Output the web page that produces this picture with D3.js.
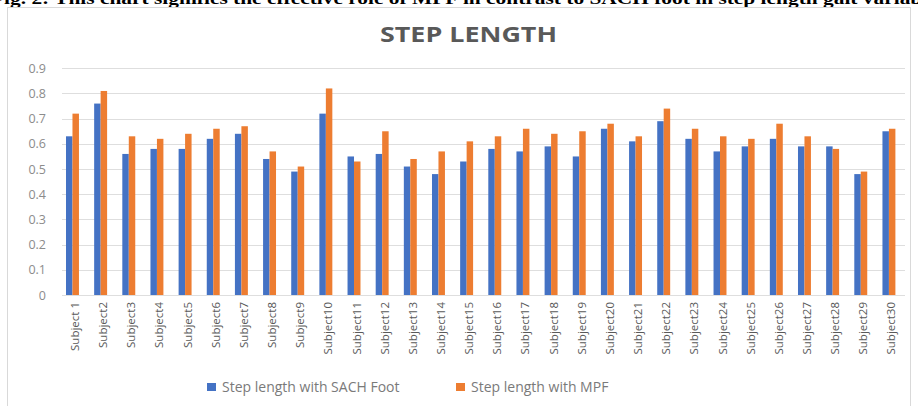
<!DOCTYPE html>
<html>
<head>
<meta charset="utf-8">
<script src="https://cdn.jsdelivr.net/npm/d3@7"></script>
<style>
  html, body { margin: 0; padding: 0; background: #fff; }
  svg { display: block; }
</style>
</head>
<body>
<svg id="chart" width="918" height="406"></svg>
<script>
// Step length per subject, two prosthetic feet
const subjects = d3.range(1, 31).map(i => i === 1 ? "Subject 1" : "Subject" + i);
const sachFoot = [0.63, 0.76, 0.56, 0.58, 0.58, 0.62, 0.64, 0.54, 0.49, 0.72,
                  0.55, 0.56, 0.51, 0.48, 0.53, 0.58, 0.57, 0.59, 0.55, 0.66,
                  0.61, 0.69, 0.62, 0.57, 0.59, 0.62, 0.59, 0.59, 0.48, 0.65];
const mpf      = [0.72, 0.81, 0.63, 0.62, 0.64, 0.66, 0.67, 0.57, 0.51, 0.82,
                  0.53, 0.65, 0.54, 0.57, 0.61, 0.63, 0.66, 0.64, 0.65, 0.68,
                  0.63, 0.74, 0.66, 0.63, 0.62, 0.68, 0.63, 0.58, 0.49, 0.66];
const seriesNames = ["Step length with SACH Foot", "Step length with MPF"];
const yTicks = [0, 0.1, 0.2, 0.3, 0.4, 0.5, 0.6, 0.7, 0.8, 0.9];
const colors = ["#4472C4", "#ED7D31"];

const svg = d3.select("#chart");
const W = 918, H = 406;

// Figure caption running along the top edge
svg.append("text")
  .attr("x", -9).attr("y", 4)
  .attr("font-family", "Liberation Serif, serif")
  .attr("font-weight", "bold")
  .attr("font-size", 16)
  .attr("fill", "#000")
  .attr("textLength", 955)
  .attr("lengthAdjust", "spacingAndGlyphs")
  .text("Fig. 2: This chart signifies the effective role of MPF in contrast to SACH foot in step length gait variables");

// Chart frame
svg.append("rect")
  .attr("x", 7.5).attr("y", 7.5)
  .attr("width", 903).attr("height", 410)
  .attr("fill", "#fff")
  .attr("stroke", "#d9d9d9");

const x = d3.scaleBand()
  .domain(subjects)
  .range([58.4, 903])
  .paddingInner(0.54)
  .paddingOuter(0.27);

const xInner = d3.scaleBand()
  .domain([0, 1])
  .range([0, x.bandwidth()]);

const y = d3.scaleLinear()
  .domain([0, 0.9])
  .range([295, 68.3]);

// Gridlines
svg.append("g")
  .selectAll("line")
  .data(yTicks)
  .join("line")
  .attr("x1", 62).attr("x2", 905)
  .attr("y1", d => Math.round(y(d)) + 0.5)
  .attr("y2", d => Math.round(y(d)) + 0.5)
  .attr("stroke", "#dedede")
  .attr("stroke-width", 1);

// Y axis labels
const yAxis = d3.axisLeft(y)
  .tickValues(yTicks)
  .tickSize(0)
  .tickPadding(0)
  .tickFormat(d => d === 0 ? "0" : d3.format(".1f")(d));

svg.append("g")
  .attr("transform", "translate(46,0)")
  .call(yAxis)
  .call(g => g.select(".domain").remove())
  .call(g => g.selectAll("text")
    .attr("font-family", "Open Sans, sans-serif")
    .attr("font-size", 12.5)
    .attr("fill", "#8c8c8c"));

// Bars
const groups = svg.append("g")
  .selectAll("g")
  .data(subjects.map((s, i) => ({ s, v: [sachFoot[i], mpf[i]] })))
  .join("g")
  .attr("transform", d => `translate(${x(d.s)},0)`);

groups.selectAll("rect")
  .data(d => d.v.map((v, k) => ({ v, k })))
  .join("rect")
  .attr("x", d => xInner(d.k))
  .attr("width", xInner.bandwidth())
  .attr("y", d => y(d.v))
  .attr("height", d => y(0) - y(d.v))
  .attr("fill", d => colors[d.k]);

// X axis labels, rotated
const xAxis = d3.axisBottom(x).tickSize(0).tickPadding(0);
svg.append("g")
  .attr("transform", "translate(0,302)")
  .call(xAxis)
  .call(g => g.select(".domain").remove())
  .call(g => g.selectAll("text")
    .attr("font-family", "Open Sans, sans-serif")
    .attr("font-size", 11.5)
    .attr("fill", "#595959")
    .attr("text-anchor", "end")
    .attr("transform", "rotate(-90)")
    .attr("x", 0).attr("y", 2.5)
    .attr("dy", "0.35em"));

// Title
svg.append("text")
  .attr("x", 468.5).attr("y", 42)
  .attr("text-anchor", "middle")
  .attr("font-family", "Open Sans, sans-serif")
  .attr("font-weight", "bold")
  .attr("font-size", 21)
  .attr("fill", "#595959")
  .attr("textLength", 177)
  .attr("lengthAdjust", "spacingAndGlyphs")
  .text("STEP LENGTH");

// Legend
const legendX = [207, 456];
const legend = svg.append("g")
  .selectAll("g")
  .data(seriesNames)
  .join("g")
  .attr("transform", (d, i) => `translate(${legendX[i]},383)`);

legend.append("rect")
  .attr("width", 9).attr("height", 8)
  .attr("fill", (d, i) => colors[i]);

legend.append("text")
  .attr("x", 15).attr("y", 4)
  .attr("dy", "0.35em")
  .attr("font-family", "Open Sans, sans-serif")
  .attr("font-size", 14)
  .attr("fill", "#7a7a7a")
  .text(d => d);
</script>
</body>
</html>
